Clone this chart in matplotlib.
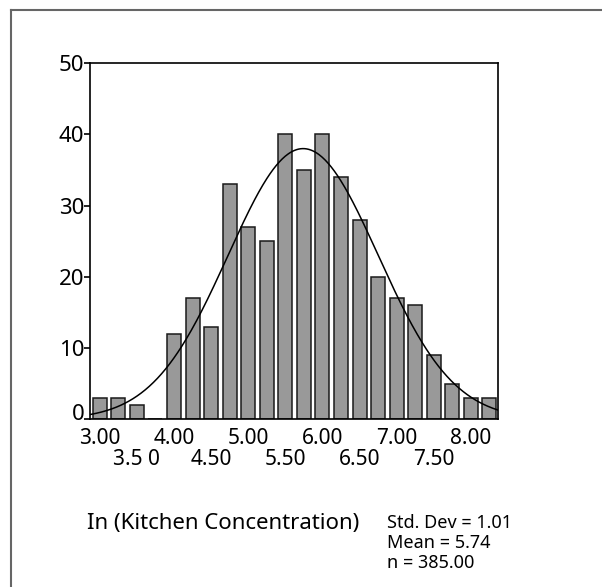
import numpy as np
import matplotlib
matplotlib.use("Agg")
import matplotlib.pyplot as plt
from matplotlib.lines import Line2D
from matplotlib.transforms import ScaledTranslation

plt.rcParams['font.family'] = ['Noto Sans', 'DejaVu Sans']

# ---- data ----
bin_centers = [3.00, 3.25, 3.50, 3.75, 4.00, 4.25, 4.50, 4.75, 5.00, 5.25, 5.50,
               5.75, 6.00, 6.25, 6.50, 6.75, 7.00, 7.25, 7.50, 7.75, 8.00, 8.25]
counts = [3, 3, 2, 0, 12, 17, 13, 33, 27, 25, 40,
          35, 40, 34, 28, 20, 17, 16, 9, 5, 3, 3]
top_tick_pos = [3.0, 4.0, 5.0, 6.0, 7.0, 8.0]
top_tick_labels = ["3.00", "4.00", "5.00", "6.00", "7.00", "8.00"]
bot_tick_pos = [3.5, 4.5, 5.5, 6.5, 7.5]
bot_tick_labels = ["3.5 0", "4.50", "5.50", "6.50", "7.50"]
y_ticks = [0, 10, 20, 30, 40, 50]
std_dev = 1.01
mean = 5.74
n = 385.00
bin_width = 0.25

W, H = 602, 587
fig = plt.figure(figsize=(W / 100, H / 100), dpi=100)
fig.patch.set_facecolor('white')

# outer frame lines (top and left)
fig.add_artist(Line2D([10.5 / W, 1.0], [1 - 9.5 / H, 1 - 9.5 / H],
                      transform=fig.transFigure, color='#666666', lw=1.5))
fig.add_artist(Line2D([10.5 / W, 10.5 / W], [0.0, 1 - 9.5 / H],
                      transform=fig.transFigure, color='#666666', lw=1.5))

left, right, top, bottom = 90, 498, 63.3, 419.3
ax = fig.add_axes([left / W, 1 - bottom / H, (right - left) / W, (bottom - top) / H])

ax.bar(bin_centers, counts, width=bin_width * 0.755, color='#999999',
       edgecolor='#1a1a1a', linewidth=1.1, zorder=2)

xlim = (2.869, 8.365)
xs = np.linspace(xlim[0], xlim[1], 400)
ys = n * bin_width / (std_dev * np.sqrt(2 * np.pi)) * np.exp(-0.5 * ((xs - mean) / std_dev) ** 2)
ax.plot(xs, ys, color='black', lw=1.1, zorder=3)

ax.set_xlim(*xlim)
ax.set_ylim(0, 50)

for s in ax.spines.values():
    s.set_linewidth(1.2)
    s.set_color('black')

ax.set_yticks(y_ticks)
ax.set_yticklabels([str(v) for v in y_ticks])
ax.tick_params(axis='y', which='major', length=4, width=1.2, pad=0, labelsize=16)

ax.set_xticks(top_tick_pos)
ax.set_xticklabels(top_tick_labels)
ax.set_xticks(bot_tick_pos, minor=True)
ax.set_xticklabels(bot_tick_labels, minor=True)
ax.tick_params(axis='x', which='major', length=0, pad=6, labelsize=15)
ax.tick_params(axis='x', which='minor', length=0, pad=21.5, labelsize=15)

# the "0" label sits a little above its tick in the reference
fig.canvas.draw()
zero_lbl = ax.get_yticklabels()[0]
zero_lbl.set_transform(zero_lbl.get_transform() + ScaledTranslation(0, 7 / 100, fig.dpi_scale_trans))

fig.text(87 / W, 1 - 523 / H, "In (Kitchen Concentration)", fontsize=16,
         ha='left', va='center')
fig.text(387 / W, 1 - 523 / H, "Std. Dev = 1.01", fontsize=13, ha='left', va='center')
fig.text(387 / W, 1 - 543 / H, "Mean = 5.74", fontsize=13, ha='left', va='center')
fig.text(387 / W, 1 - 563 / H, "n = 385.00", fontsize=13, ha='left', va='center')

fig.savefig("out.png", dpi=100)
